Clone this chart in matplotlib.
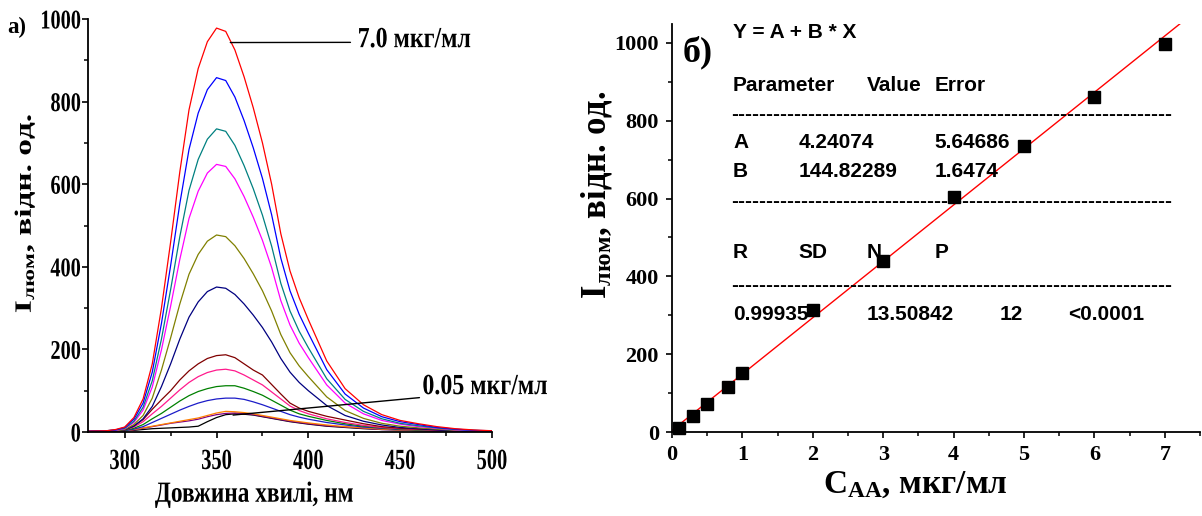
import matplotlib
matplotlib.use("Agg")
import matplotlib.pyplot as plt
from matplotlib.patheffects import AbstractPathEffect
from matplotlib.path import Path
from matplotlib.transforms import IdentityTransform
from matplotlib.ticker import MultipleLocator

# ---- data: luminescence spectra (panel a) ----
wavelength = [280, 290, 295, 300, 305, 310, 315, 320, 325, 330, 335, 340, 345,
              350, 355, 360, 365, 370, 375, 380, 385, 390, 395, 400, 410, 420,
              430, 440, 450, 460, 470, 480, 490, 500]

spec_70 = [2, 3, 6, 12, 35, 80, 165, 300, 460, 630, 780, 880, 945, 978, 970, 925, 860,
           785, 700, 600, 480, 390, 325, 272, 172, 105, 66, 42, 28, 20, 13, 8, 5, 3]
spec_60 = [2, 3, 5, 11, 31, 70, 145, 263, 403, 553, 684, 772, 829, 858, 851, 811, 754,
           688, 614, 526, 421, 342, 285, 239, 151, 92, 58, 37, 25, 18, 11, 7, 4, 3]
spec_50 = [2, 3, 5, 9, 26, 60, 124, 225, 345, 473, 585, 660, 709, 734, 728, 694, 645,
           589, 525, 450, 360, 293, 244, 204, 129, 79, 50, 32, 21, 15, 10, 6, 4, 2]
spec_40 = [2, 3, 4, 8, 23, 53, 109, 199, 305, 418, 517, 583, 627, 648, 643, 613, 570,
           520, 464, 398, 318, 259, 215, 180, 114, 70, 44, 28, 19, 13, 9, 5, 3, 2]
spec_30 = [1, 2, 3, 6, 18, 40, 82, 150, 228, 310, 382, 430, 462, 477, 473, 451, 420,
           383, 342, 293, 236, 192, 160, 134, 85, 52, 33, 21, 14, 10, 7, 4, 3, 2]
spec_20 = [1, 2, 3, 5, 14, 32, 62, 110, 165, 225, 278, 315, 340, 351, 348, 333, 310,
           283, 253, 218, 178, 145, 120, 100, 64, 40, 26, 17, 11, 8, 5, 3, 2, 1]
spec_10 = [1, 2, 3, 5, 15, 30, 55, 78, 100, 126, 148, 165, 178, 185, 187, 180, 165,
           150, 138, 115, 92, 70, 58, 50, 38, 29, 20, 13, 9, 7, 5, 3, 2, 1]
spec_08 = [1, 2, 3, 5, 12, 25, 44, 62, 82, 102, 120, 134, 144, 150, 152, 148, 138,
           126, 114, 97, 80, 63, 52, 44, 32, 23, 16, 11, 8, 6, 4, 3, 2, 1]
spec_05 = [1, 2, 3, 4, 9, 18, 32, 45, 60, 75, 88, 98, 105, 110, 112, 112, 106,
           98, 89, 77, 65, 53, 44, 38, 28, 20, 14, 10, 7, 5, 4, 3, 2, 1]
spec_03 = [1, 2, 2, 3, 7, 13, 23, 33, 43, 53, 62, 70, 76, 80, 82, 82, 79,
           73, 66, 58, 50, 42, 36, 31, 23, 17, 12, 9, 6, 5, 3, 2, 2, 1]
spec_01 = [1, 1, 2, 3, 6, 10, 14, 18, 22, 26, 30, 34, 40, 46, 50, 49, 47,
           44, 40, 36, 32, 28, 25, 22, 17, 13, 10, 7, 5, 4, 3, 2, 1, 1]
spec_005 = [1, 1, 2, 3, 5, 9, 13, 17, 21, 24, 27, 31, 37, 42, 45, 46, 45,
            42, 38, 34, 30, 26, 23, 20, 15, 12, 9, 6, 5, 4, 3, 2, 1, 1]
spec_blank = [1, 1, 2, 3, 4, 6, 8, 9, 10, 11, 12, 14, 25, 35, 42, 44, 43,
              41, 37, 33, 29, 25, 22, 19, 14, 11, 8, 6, 5, 3, 2, 2, 1, 1]

spectra = [spec_blank, spec_005, spec_01, spec_03, spec_05, spec_08, spec_10,
           spec_20, spec_30, spec_40, spec_50, spec_60, spec_70]
spec_colors = ["#000000", "#800080", "#ff8000", "#1c1cc8", "#008000", "#ff1a8c",
               "#800000", "#000080", "#808000", "#ff00ff", "#008080", "#0000ff",
               "#ff0000"]

# ---- data: calibration (panel b) ----
conc = [0.1, 0.3, 0.5, 0.8, 1.0, 2.0, 3.0, 4.0, 5.0, 6.0, 7.0]
intensity = [11, 42, 71, 115, 151, 314, 440, 605, 736, 862, 997]
fit_a = 4.24074
fit_b = 144.82289
fit_x = [0.0, 7.5]

table_rows = [
    ["Parameter", "Value", "Error"],
    ["A", "4.24074", "5.64686"],
    ["B", "144.82289", "1.6474"],
    ["R", "SD", "N", "P"],
    ["0.99935", "13.50842", "12", "<0.0001"],
]


class Squeeze(AbstractPathEffect):
    """Narrow the glyphs horizontally (the left panel is condensed)."""

    def __init__(self, sx=0.75, anchor="center"):
        super().__init__()
        self.sx = sx
        self.anchor = anchor

    def draw_path(self, renderer, gc, tpath, affine, rgbFace=None):
        path = affine.transform_path(tpath)
        verts = path.vertices.copy()
        ext = path.get_extents()
        if self.anchor == "left":
            x0 = ext.x0
        elif self.anchor == "right":
            x0 = ext.x1
        else:
            x0 = (ext.x0 + ext.x1) / 2
        verts[:, 0] = x0 + (verts[:, 0] - x0) * self.sx
        renderer.draw_path(gc, Path(verts, path.codes), IdentityTransform(), rgbFace)


plt.rcParams["font.family"] = ["Liberation Serif", "DejaVu Serif"]
plt.rcParams["font.weight"] = "bold"
plt.rcParams["axes.labelweight"] = "bold"
plt.rcParams["mathtext.fontset"] = "custom"
plt.rcParams["mathtext.rm"] = "Liberation Serif:bold"
plt.rcParams["mathtext.bf"] = "Liberation Serif:bold"
plt.rcParams["mathtext.it"] = "Liberation Serif:bold"

W, H = 1202, 516
fig = plt.figure(figsize=(W / 100, H / 100), dpi=100)

ax1 = fig.add_axes([88 / W, (H - 432) / H, (492 - 88) / W, (432 - 19) / H])
ax2 = fig.add_axes([672 / W, (H - 432) / H, (1200 - 672) / W, (432 - 23.5) / H])

for ax in (ax1, ax2):
    for side in ("top", "right"):
        ax.spines[side].set_visible(False)
    for side in ("left", "bottom"):
        ax.spines[side].set_linewidth(1.3)
    ax.tick_params(which="major", direction="out", length=4.5, width=1.2)
    ax.tick_params(which="minor", direction="out", length=3, width=1.1)

# ---- panel a ----
for ys, c in zip(spectra, spec_colors):
    ax1.plot(wavelength, ys, color=c, lw=0.9)

ax1.set_xlim(280, 500)
ax1.set_ylim(0, 1000)
ax1.xaxis.set_major_locator(MultipleLocator(50))
ax1.xaxis.set_minor_locator(MultipleLocator(25))
ax1.yaxis.set_major_locator(MultipleLocator(200))
ax1.yaxis.set_minor_locator(MultipleLocator(100))
ax1.tick_params(axis="x", labelsize=21, pad=7)
ax1.tick_params(axis="y", labelsize=19.5, pad=0.5)
for lbl in ax1.get_xticklabels():
    lbl.set_path_effects([Squeeze(0.7, "center")])
for lbl in ax1.get_yticklabels():
    lbl.set_path_effects([Squeeze(0.75, "right")])

ax1.set_xlabel("Довжина хвилі, нм", fontsize=21, fontweight="bold",
               path_effects=[Squeeze(0.8, "center")])
ax1.xaxis.set_label_coords(0.411, -0.118)
ax1.set_ylabel(r"$\mathbf{I}_{\mathbf{люм}}$, відн. од.", fontsize=24,
               fontweight="bold", path_effects=[Squeeze(0.7, "center")])
ax1.yaxis.set_label_coords(-0.115, 0.53)

ax1.annotate("7.0 мкг/мл", xy=(357.5, 943), xytext=(426.7, 950),
             fontsize=21, fontweight="bold", ha="left", va="center",
             path_effects=[Squeeze(0.82, "left")],
             arrowprops=dict(arrowstyle="-", color="black", lw=1.0,
                             shrinkA=3, shrinkB=0, relpos=(0, 0.4)))
ax1.annotate("0.05 мкг/мл", xy=(359, 41), xytext=(462, 110),
             fontsize=21, fontweight="bold", ha="left", va="center",
             annotation_clip=False, path_effects=[Squeeze(0.82, "left")],
             arrowprops=dict(arrowstyle="-", color="black", lw=1.0,
                             shrinkA=0, shrinkB=0, relpos=(0, 0.1)))

fig.text(7 / W, 1 - 27 / H, "а)", fontsize=16.5, fontweight="bold",
         ha="left", va="center")

# ---- panel b ----
ax2.plot(fit_x, [fit_a + fit_b * x for x in fit_x], color="#ff0000", lw=1.0)
ax2.plot(conc, intensity, "s", color="black", ms=9, clip_on=False, zorder=3)

ax2.set_xlim(0, 7.5)
ax2.set_ylim(0, 1050)
ax2.xaxis.set_major_locator(MultipleLocator(1))
ax2.xaxis.set_minor_locator(MultipleLocator(0.5))
ax2.yaxis.set_major_locator(MultipleLocator(200))
ax2.yaxis.set_minor_locator(MultipleLocator(100))
ax2.set_xticks(range(0, 8))
ax2.tick_params(axis="both", labelsize=16, pad=5)

ax2.set_xlabel(r"$\mathbf{C}_{\mathbf{AA}}$, мкг/мл", fontsize=24,
               fontweight="bold")
ax2.xaxis.set_label_coords(0.46, -0.09)
ax2.set_ylabel(r"$\mathbf{I}_{\mathbf{люм}}$, відн. од.", fontsize=25,
               fontweight="bold")
ax2.yaxis.set_label_coords(-0.11, 0.58)

fig.text(683 / W, 1 - 52 / H, "б)", fontsize=26, fontweight="bold",
         ha="left", va="center")

# fit report (Origin style), positions in pixels
sans = dict(family=["Liberation Sans", "DejaVu Sans"], fontsize=15,
            fontweight="bold", va="baseline", ha="left")
fig.text(733 / W, 1 - 38 / H, "Y = A + B * X", **sans)
row_base = [91, 148, 177, 258, 320]
row_cols = [
    [733, 866.6, 934.5],
    [733, 798.7, 934.5],
    [733, 798.7, 934.5],
    [733, 798.7, 866.6, 934.5],
    [733, 866.6, 1000, 1068],
]
for row, base, xs in zip(table_rows, row_base, row_cols):
    for txt, x in zip(row, xs):
        fig.text(x / W, 1 - base / H, txt, **sans)
for dash_y in (114, 201, 285):
    fig.text(731 / W, 1 - (dash_y + 5.7) / H, "-" * 63, **sans)

fig.savefig("out.png", dpi=100)
